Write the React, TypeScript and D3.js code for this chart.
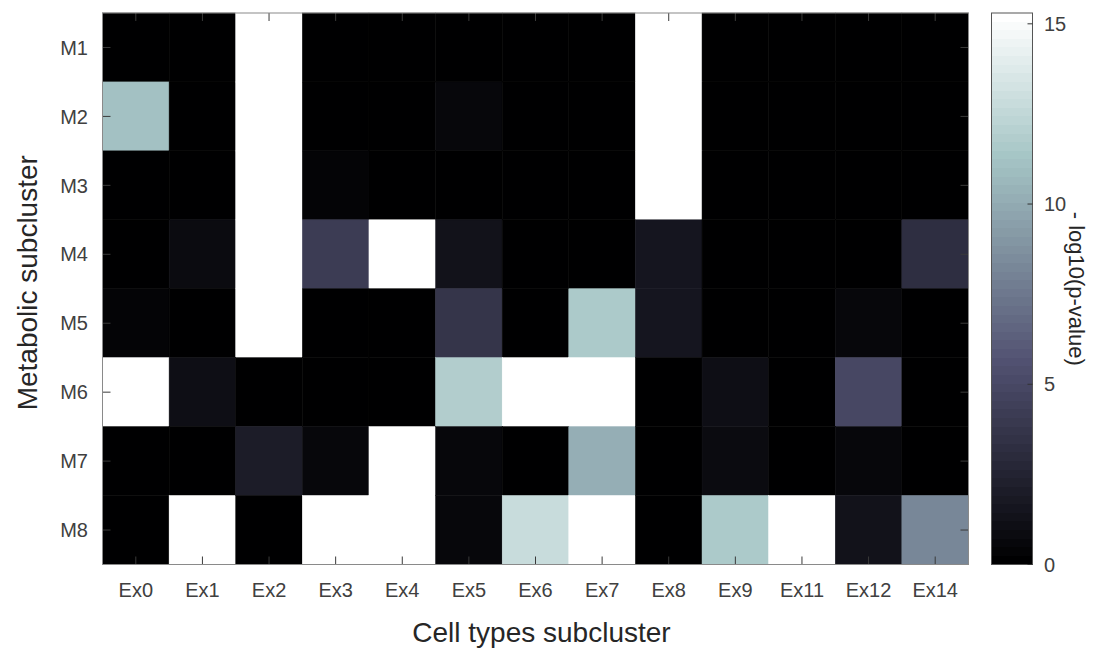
import React, { useEffect, useRef } from 'react';
import * as d3 from 'd3';

const cellTypes = ['Ex0', 'Ex1', 'Ex2', 'Ex3', 'Ex4', 'Ex5', 'Ex6', 'Ex7', 'Ex8', 'Ex9', 'Ex11', 'Ex12', 'Ex14'];
const metaClusters = ['M1', 'M2', 'M3', 'M4', 'M5', 'M6', 'M7', 'M8'];

// -log10(p) per metabolic subcluster, one value per cell type (white cells are above the colour limit)
const M1 = [0, 0, 16, 0, 0, 0, 0, 0, 16, 0, 0, 0, 0];
const M2 = [11.2, 0, 16, 0, 0, 0.5, 0, 0, 16, 0, 0, 0, 0];
const M3 = [0, 0, 16, 0.35, 0, 0, 0, 0, 16, 0, 0, 0, 0];
const M4 = [0, 0.8, 16, 4.1, 16, 1.25, 0, 0, 1.5, 0, 0, 0, 3.2];
const M5 = [0.35, 0, 16, 0, 0, 3.6, 0, 11.7, 1.5, 0, 0, 0.55, 0];
const M6 = [16, 1.0, 0, 0, 0, 11.9, 16, 16, 0, 1.1, 0, 5.0, 0];
const M7 = [0, 0, 2.05, 0.55, 16, 0.55, 0.1, 10.1, 0, 0.8, 0, 0.7, 0];
const M8 = [0, 16, 0, 16, 16, 0.55, 12.7, 16, 0, 11.6, 16, 1.25, 8.2];
const rows = [M1, M2, M3, M4, M5, M6, M7, M8];

const cbTicks = [0, 5, 10, 15];
const cMax = 15.3;

// MATLAB bone colormap: (7*gray + fliplr(hot)) / 8
function bone(m: number): string[] {
  const n = Math.floor((3 / 8) * m);
  const out: string[] = [];
  for (let i = 0; i < m; i++) {
    const g = i / (m - 1);
    const hr = i < n ? (i + 1) / n : 1;
    const hg = i < n ? 0 : i < 2 * n ? (i - n + 1) / n : 1;
    const hb = i < 2 * n ? 0 : (i - 2 * n + 1) / (m - 2 * n);
    const r = (7 * g + hb) / 8;
    const gg = (7 * g + hg) / 8;
    const b = (7 * g + hr) / 8;
    out.push(d3.rgb(r * 255, gg * 255, b * 255).formatHex());
  }
  return out;
}

const App = () => {
  const ref = useRef<SVGSVGElement | null>(null);

  useEffect(() => {
    const svg = d3.select(ref.current);
    svg.selectAll('*').remove();

    const left = 102.5, right = 968.5, top = 13, bottom = 564.5;
    const cmap = bone(64);
    const colorOf = (v: number) => {
      let idx = Math.floor((v / cMax) * 64);
      idx = Math.max(0, Math.min(63, idx));
      return cmap[idx];
    };

    const x = d3.scaleBand().domain(cellTypes).range([left, right]);
    const y = d3.scaleBand().domain(metaClusters).range([top, bottom]);
    const font = 'Arial, "Liberation Sans", Helvetica, sans-serif';

    const cells = rows.flatMap((vals, r) => vals.map((v, c) => ({ row: metaClusters[r], col: cellTypes[c], v })));

    svg
      .append('g')
      .selectAll('rect')
      .data(cells)
      .enter()
      .append('rect')
      .attr('x', (d) => x(d.col)!)
      .attr('y', (d) => y(d.row)!)
      .attr('width', x.bandwidth())
      .attr('height', y.bandwidth())
      .attr('fill', (d) => colorOf(d.v))
      .attr('stroke', (d) => colorOf(d.v))
      .attr('stroke-width', 0.5);

    // ticks inside the box on all four sides
    const tickColor = '#3a3a3a';
    const tl = 8;
    const tg = svg.append('g').attr('stroke', tickColor).attr('stroke-width', 1);
    cellTypes.forEach((c) => {
      const cx = x(c)! + x.bandwidth() / 2;
      tg.append('line').attr('x1', cx).attr('x2', cx).attr('y1', bottom).attr('y2', bottom - tl);
      tg.append('line').attr('x1', cx).attr('x2', cx).attr('y1', top).attr('y2', top + tl);
    });
    metaClusters.forEach((m) => {
      const cy = y(m)! + y.bandwidth() / 2;
      tg.append('line').attr('x1', left).attr('x2', left + tl).attr('y1', cy).attr('y2', cy);
      tg.append('line').attr('x1', right).attr('x2', right - tl).attr('y1', cy).attr('y2', cy);
    });

    svg
      .append('rect')
      .attr('x', left)
      .attr('y', top)
      .attr('width', right - left)
      .attr('height', bottom - top)
      .attr('fill', 'none')
      .attr('stroke', '#8a8a8a')
      .attr('stroke-width', 1);

    const labelColor = '#404040';
    svg
      .append('g')
      .selectAll('text')
      .data(cellTypes)
      .enter()
      .append('text')
      .attr('x', (d) => x(d)! + x.bandwidth() / 2)
      .attr('y', 597)
      .attr('text-anchor', 'middle')
      .attr('font-family', font)
      .attr('font-size', 20)
      .attr('fill', labelColor)
      .text((d) => d);

    svg
      .append('g')
      .selectAll('text')
      .data(metaClusters)
      .enter()
      .append('text')
      .attr('x', 88)
      .attr('y', (d) => y(d)! + y.bandwidth() / 2)
      .attr('dy', '0.36em')
      .attr('text-anchor', 'end')
      .attr('font-family', font)
      .attr('font-size', 20)
      .attr('fill', labelColor)
      .text((d) => d);

    svg
      .append('text')
      .attr('x', (left + right) / 2 + 6)
      .attr('y', 642)
      .attr('text-anchor', 'middle')
      .attr('font-family', font)
      .attr('font-size', 28)
      .attr('fill', '#262626')
      .text('Cell types subcluster');

    svg
      .append('text')
      .attr('transform', `translate(37,${(top + bottom) / 2 - 6}) rotate(-90)`)
      .attr('text-anchor', 'middle')
      .attr('font-family', font)
      .attr('font-size', 28)
      .attr('fill', '#262626')
      .text('Metabolic subcluster');

    // colorbar
    const cbL = 991.5, cbR = 1032.5;
    const cy = d3.scaleLinear().domain([0, cMax]).range([bottom, top]);
    const cb = svg.append('g');
    cb.selectAll('rect')
      .data(cmap)
      .enter()
      .append('rect')
      .attr('x', cbL)
      .attr('width', cbR - cbL)
      .attr('y', (_d, i) => Math.round(cy(((i + 1) * cMax) / 64)))
      .attr('height', (_d, i) => Math.round(cy((i * cMax) / 64)) - Math.round(cy(((i + 1) * cMax) / 64)))
      .attr('fill', (d) => d)
      .attr('shape-rendering', 'crispEdges');
    cb.append('rect')
      .attr('x', cbL)
      .attr('y', top)
      .attr('width', cbR - cbL)
      .attr('height', bottom - top)
      .attr('fill', 'none')
      .attr('stroke', '#555')
      .attr('stroke-width', 1);
    cbTicks.forEach((t) => {
      cb.append('line')
        .attr('x1', cbR)
        .attr('x2', cbR - 5)
        .attr('y1', cy(t))
        .attr('y2', cy(t))
        .attr('stroke', '#333');
      cb.append('text')
        .attr('x', 1044)
        .attr('y', cy(t))
        .attr('dy', '0.36em')
        .attr('font-family', font)
        .attr('font-size', 20)
        .attr('fill', labelColor)
        .text(t);
    });
    cb.append('text')
      .attr('transform', `translate(1077,${(top + bottom) / 2}) rotate(90)`)
      .attr('text-anchor', 'middle')
      .attr('dy', '0.35em')
      .attr('font-family', font)
      .attr('font-size', 22)
      .attr('fill', '#262626')
      .text('- log10(p-value)');
  }, []);

  return (
    <svg
      ref={ref}
      width={1097}
      height={652}
      style={{ position: 'absolute', left: 0, top: 0, background: '#fff' }}
    />
  );
};

export default App;
